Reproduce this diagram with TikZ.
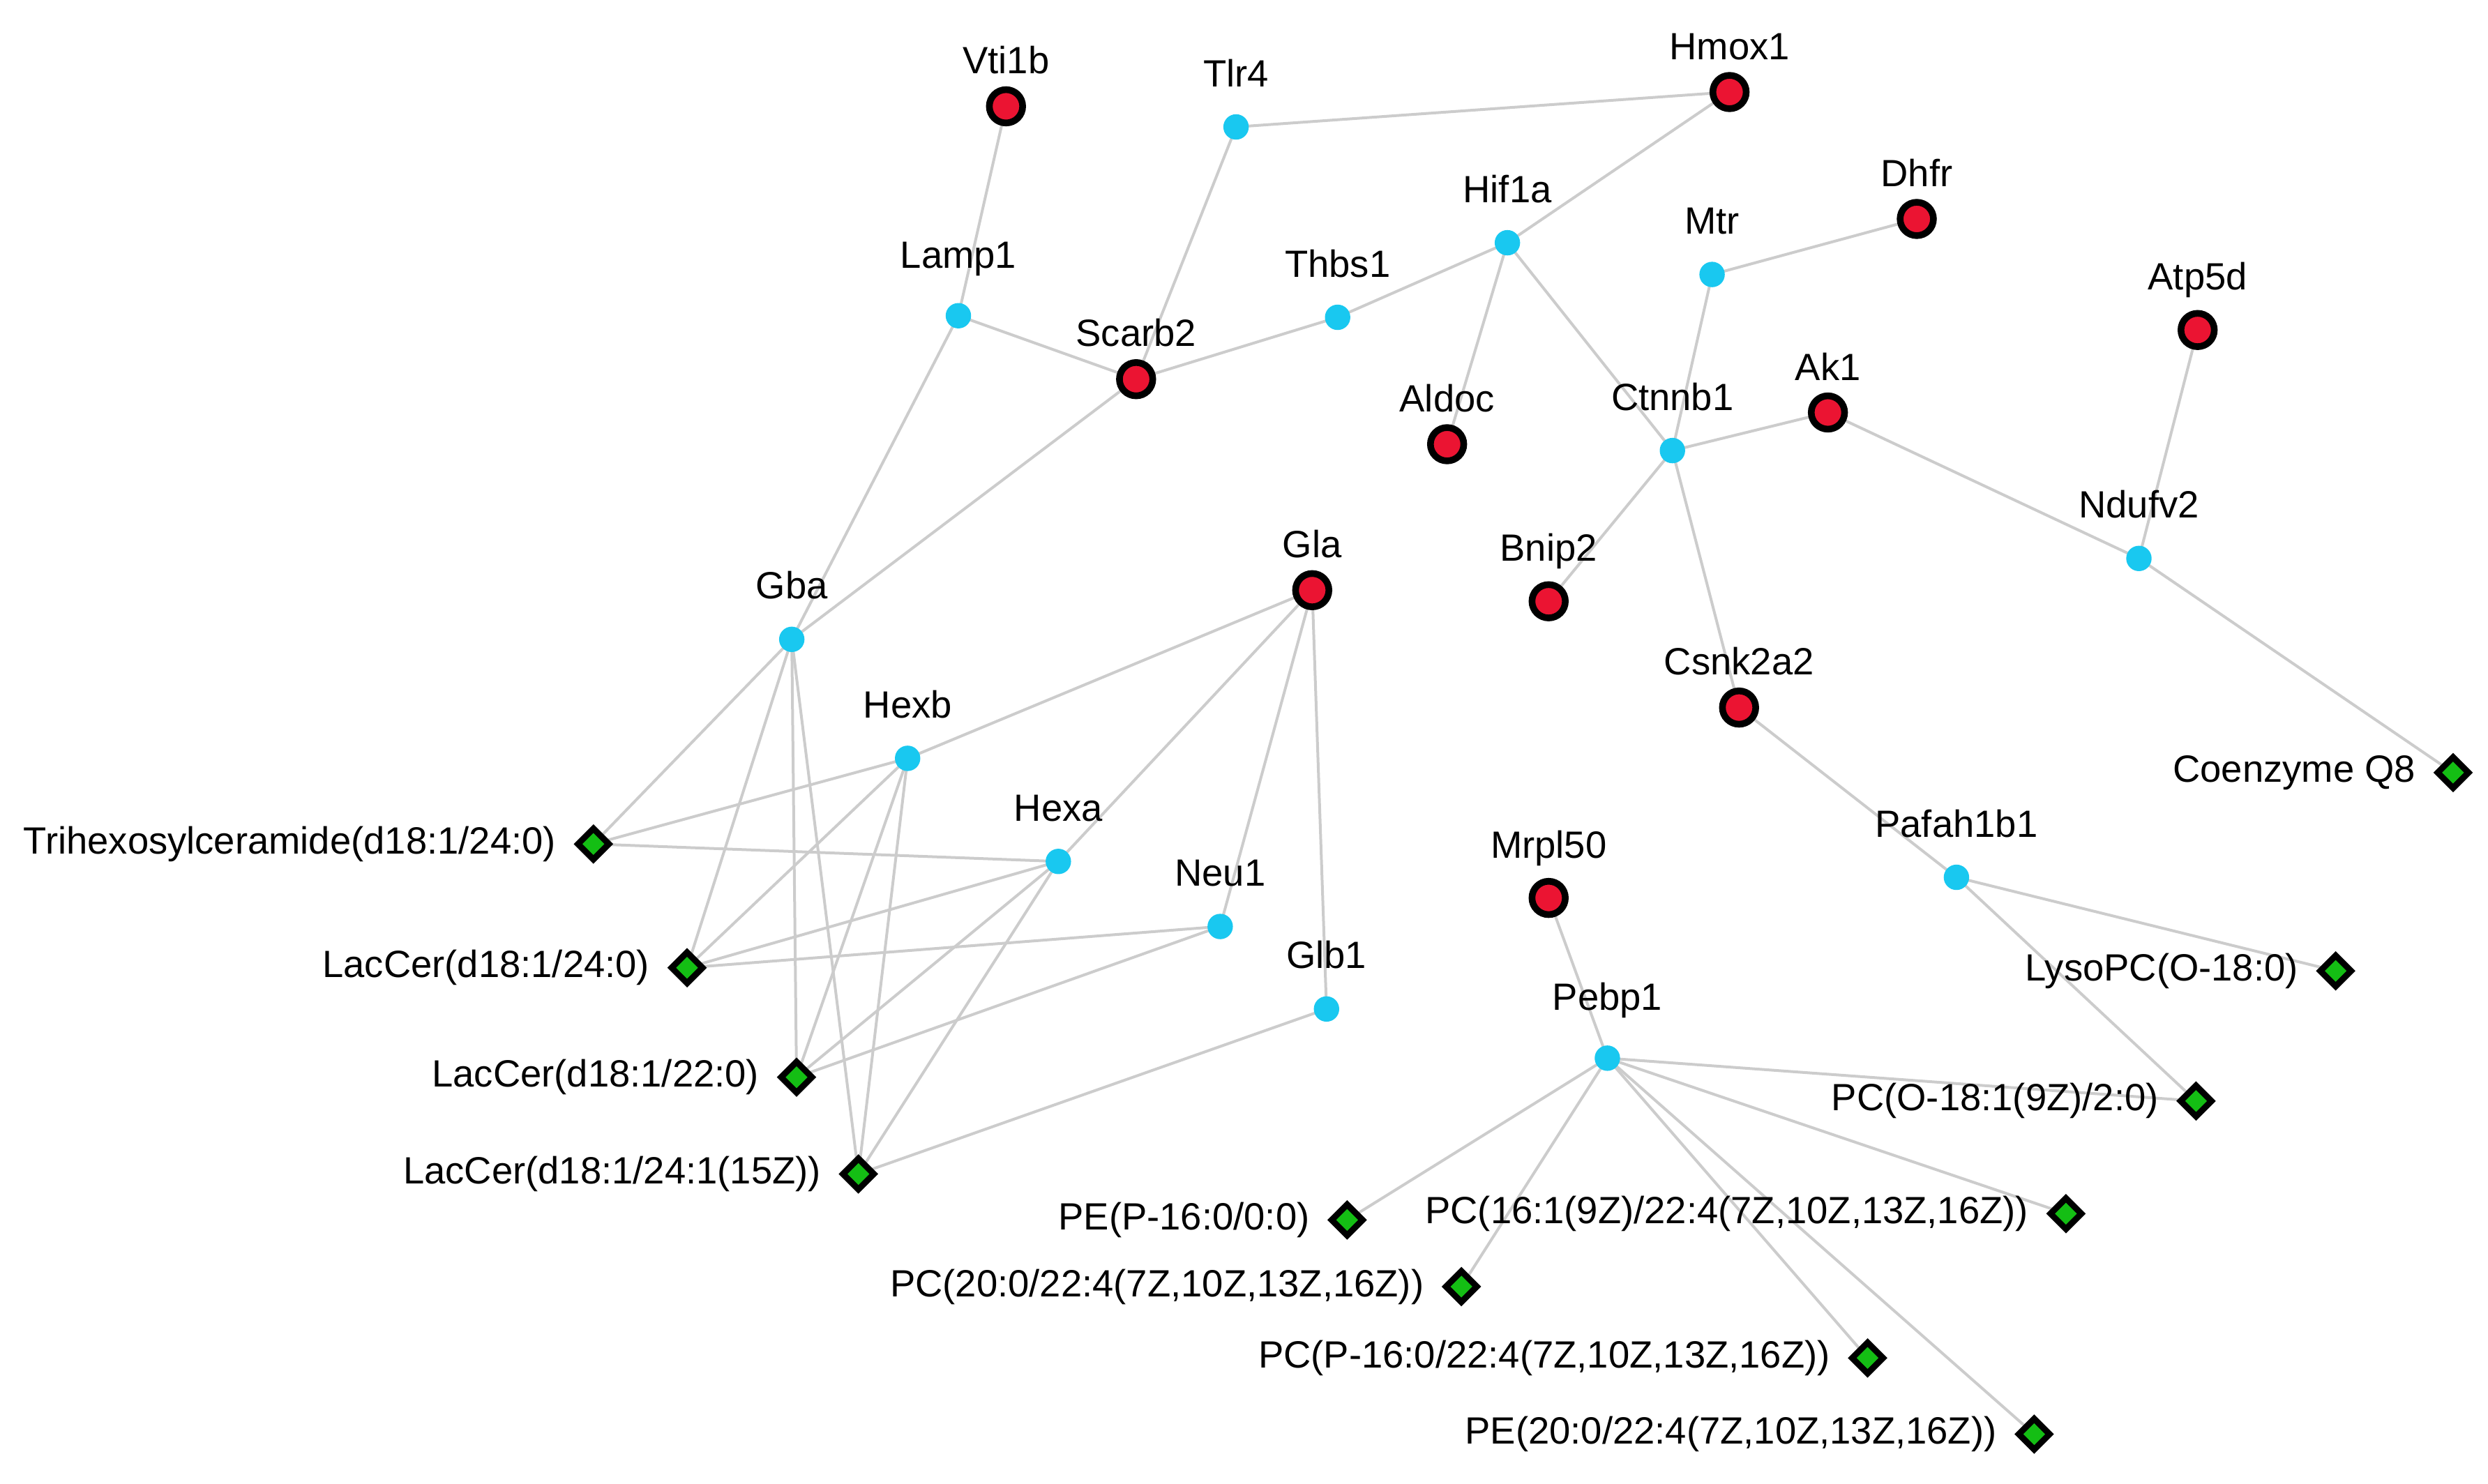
\documentclass[tikz,border=0pt]{standalone}
\usepackage{fontspec}
\setmainfont{Liberation Sans}
\usetikzlibrary{shapes.geometric}
\definecolor{nred}{RGB}{235,20,50}
\definecolor{nblue}{RGB}{25,200,240}
\definecolor{ngreen}{RGB}{20,190,20}
\pgfdeclarelayer{bg}\pgfsetlayers{bg,main}
\begin{document}
\begin{tikzpicture}[x=0.01cm,y=-0.01cm,
 red/.style={circle,draw=black,line width=1.2pt,fill=nred,minimum size=0.21cm,inner sep=0pt},
 blue/.style={circle,fill=nblue,minimum size=0.16cm,inner sep=0pt},
 green/.style={diamond,draw=black,line width=1.1pt,fill=ngreen,minimum size=0.21cm,inner sep=0pt},
 lab/.style={font=\fontsize{6.8}{8}\selectfont,inner sep=1pt},
 edge/.style={draw=black!20,line width=0.5pt}]
\useasboundingbox (0,0) rectangle (1568,935);
\newcommand{\rn}[4]{\node[red] (#1) at (#2,#3) {}; \node[lab,above=1pt] at (#1.north) {#4};}
\newcommand{\bn}[4]{\node[blue] (#1) at (#2,#3) {}; \node[lab,above=3.5pt] at (#1.north) {#4};}
\newcommand{\gn}[4]{\node[green] (#1) at (#2,#3) {}; \node[lab,left=2pt] at (#1.west) {#4};}
\rn{Vti1b}{634}{67}{Vti1b}
\rn{Hmox1}{1090}{58}{Hmox1}
\rn{Dhfr}{1208}{138}{Dhfr}
\rn{Atp5d}{1385}{208}{Atp5d}
\rn{Scarb2}{716}{239}{Scarb2}
\rn{Aldoc}{912}{280}{Aldoc}
\rn{Ak1}{1152}{260}{Ak1}
\rn{Gla}{827}{372}{Gla}
\rn{Bnip2}{976}{379}{Bnip2}
\rn{Csnk2a2}{1096}{446}{Csnk2a2}
\rn{Mrpl50}{976}{566}{Mrpl50}
\bn{Tlr4}{779}{80}{Tlr4}
\bn{Hif1a}{950}{153}{Hif1a}
\bn{Mtr}{1079}{173}{Mtr}
\bn{Lamp1}{604}{199}{Lamp1}
\bn{Thbs1}{843}{200}{Thbs1}
\bn{Ctnnb1}{1054}{284}{Ctnnb1}
\bn{Ndufv2}{1348}{352}{Ndufv2}
\bn{Gba}{499}{403}{Gba}
\bn{Hexb}{572}{478}{Hexb}
\bn{Hexa}{667}{543}{Hexa}
\bn{Neu1}{769}{584}{Neu1}
\bn{Glb1}{836}{636}{Glb1}
\bn{Pafah}{1233}{553}{Pafah1b1}
\bn{Pebp1}{1013}{667}{Pebp1}
\gn{CoQ}{1546}{487}{Coenzyme Q8}
\gn{Tri}{374}{532}{Trihexosylceramide(d18:1/24:0)}
\gn{LCa}{433}{610}{LacCer(d18:1/24:0)}
\gn{Lyso}{1472}{612}{LysoPC(O-18:0)}
\gn{LCb}{502}{679}{LacCer(d18:1/22:0)}
\gn{PCO}{1384}{694}{PC(O-18:1(9Z)/2:0)}
\gn{LCc}{541}{740}{LacCer(d18:1/24:1(15Z))}
\gn{PEP}{849}{769}{PE(P-16:0/0:0)}
\gn{PC16}{1302}{765}{PC(16:1(9Z)/22:4(7Z,10Z,13Z,16Z))}
\gn{PC20}{921}{811}{PC(20:0/22:4(7Z,10Z,13Z,16Z))}
\gn{PCP}{1177}{856}{PC(P-16:0/22:4(7Z,10Z,13Z,16Z))}
\gn{PE20}{1282}{904}{PE(20:0/22:4(7Z,10Z,13Z,16Z))}
\begin{pgfonlayer}{bg}
\foreach \a/\b in {Vti1b/Lamp1,Tlr4/Hmox1,Tlr4/Scarb2,Hmox1/Hif1a,Hif1a/Thbs1,Hif1a/Aldoc,Hif1a/Ctnnb1,Thbs1/Scarb2,Lamp1/Scarb2,Lamp1/Gba,Scarb2/Gba,Mtr/Dhfr,Mtr/Ctnnb1,Ctnnb1/Ak1,Ctnnb1/Bnip2,Ctnnb1/Csnk2a2,Ak1/Ndufv2,Atp5d/Ndufv2,Ndufv2/CoQ,Csnk2a2/Pafah,Pafah/Lyso,Pafah/PCO,Mrpl50/Pebp1,Pebp1/PCO,Pebp1/PC16,Pebp1/PEP,Pebp1/PC20,Pebp1/PCP,Pebp1/PE20,Gla/Hexb,Gla/Hexa,Gla/Neu1,Gla/Glb1,Gba/Tri,Gba/LCa,Gba/LCb,Gba/LCc,Hexb/Tri,Hexb/LCa,Hexb/LCb,Hexb/LCc,Hexa/Tri,Hexa/LCa,Hexa/LCb,Hexa/LCc,Neu1/LCa,Neu1/LCb,Glb1/LCc}
 \draw[edge] (\a.center) -- (\b.center);
\end{pgfonlayer}
\end{tikzpicture}
\end{document}
